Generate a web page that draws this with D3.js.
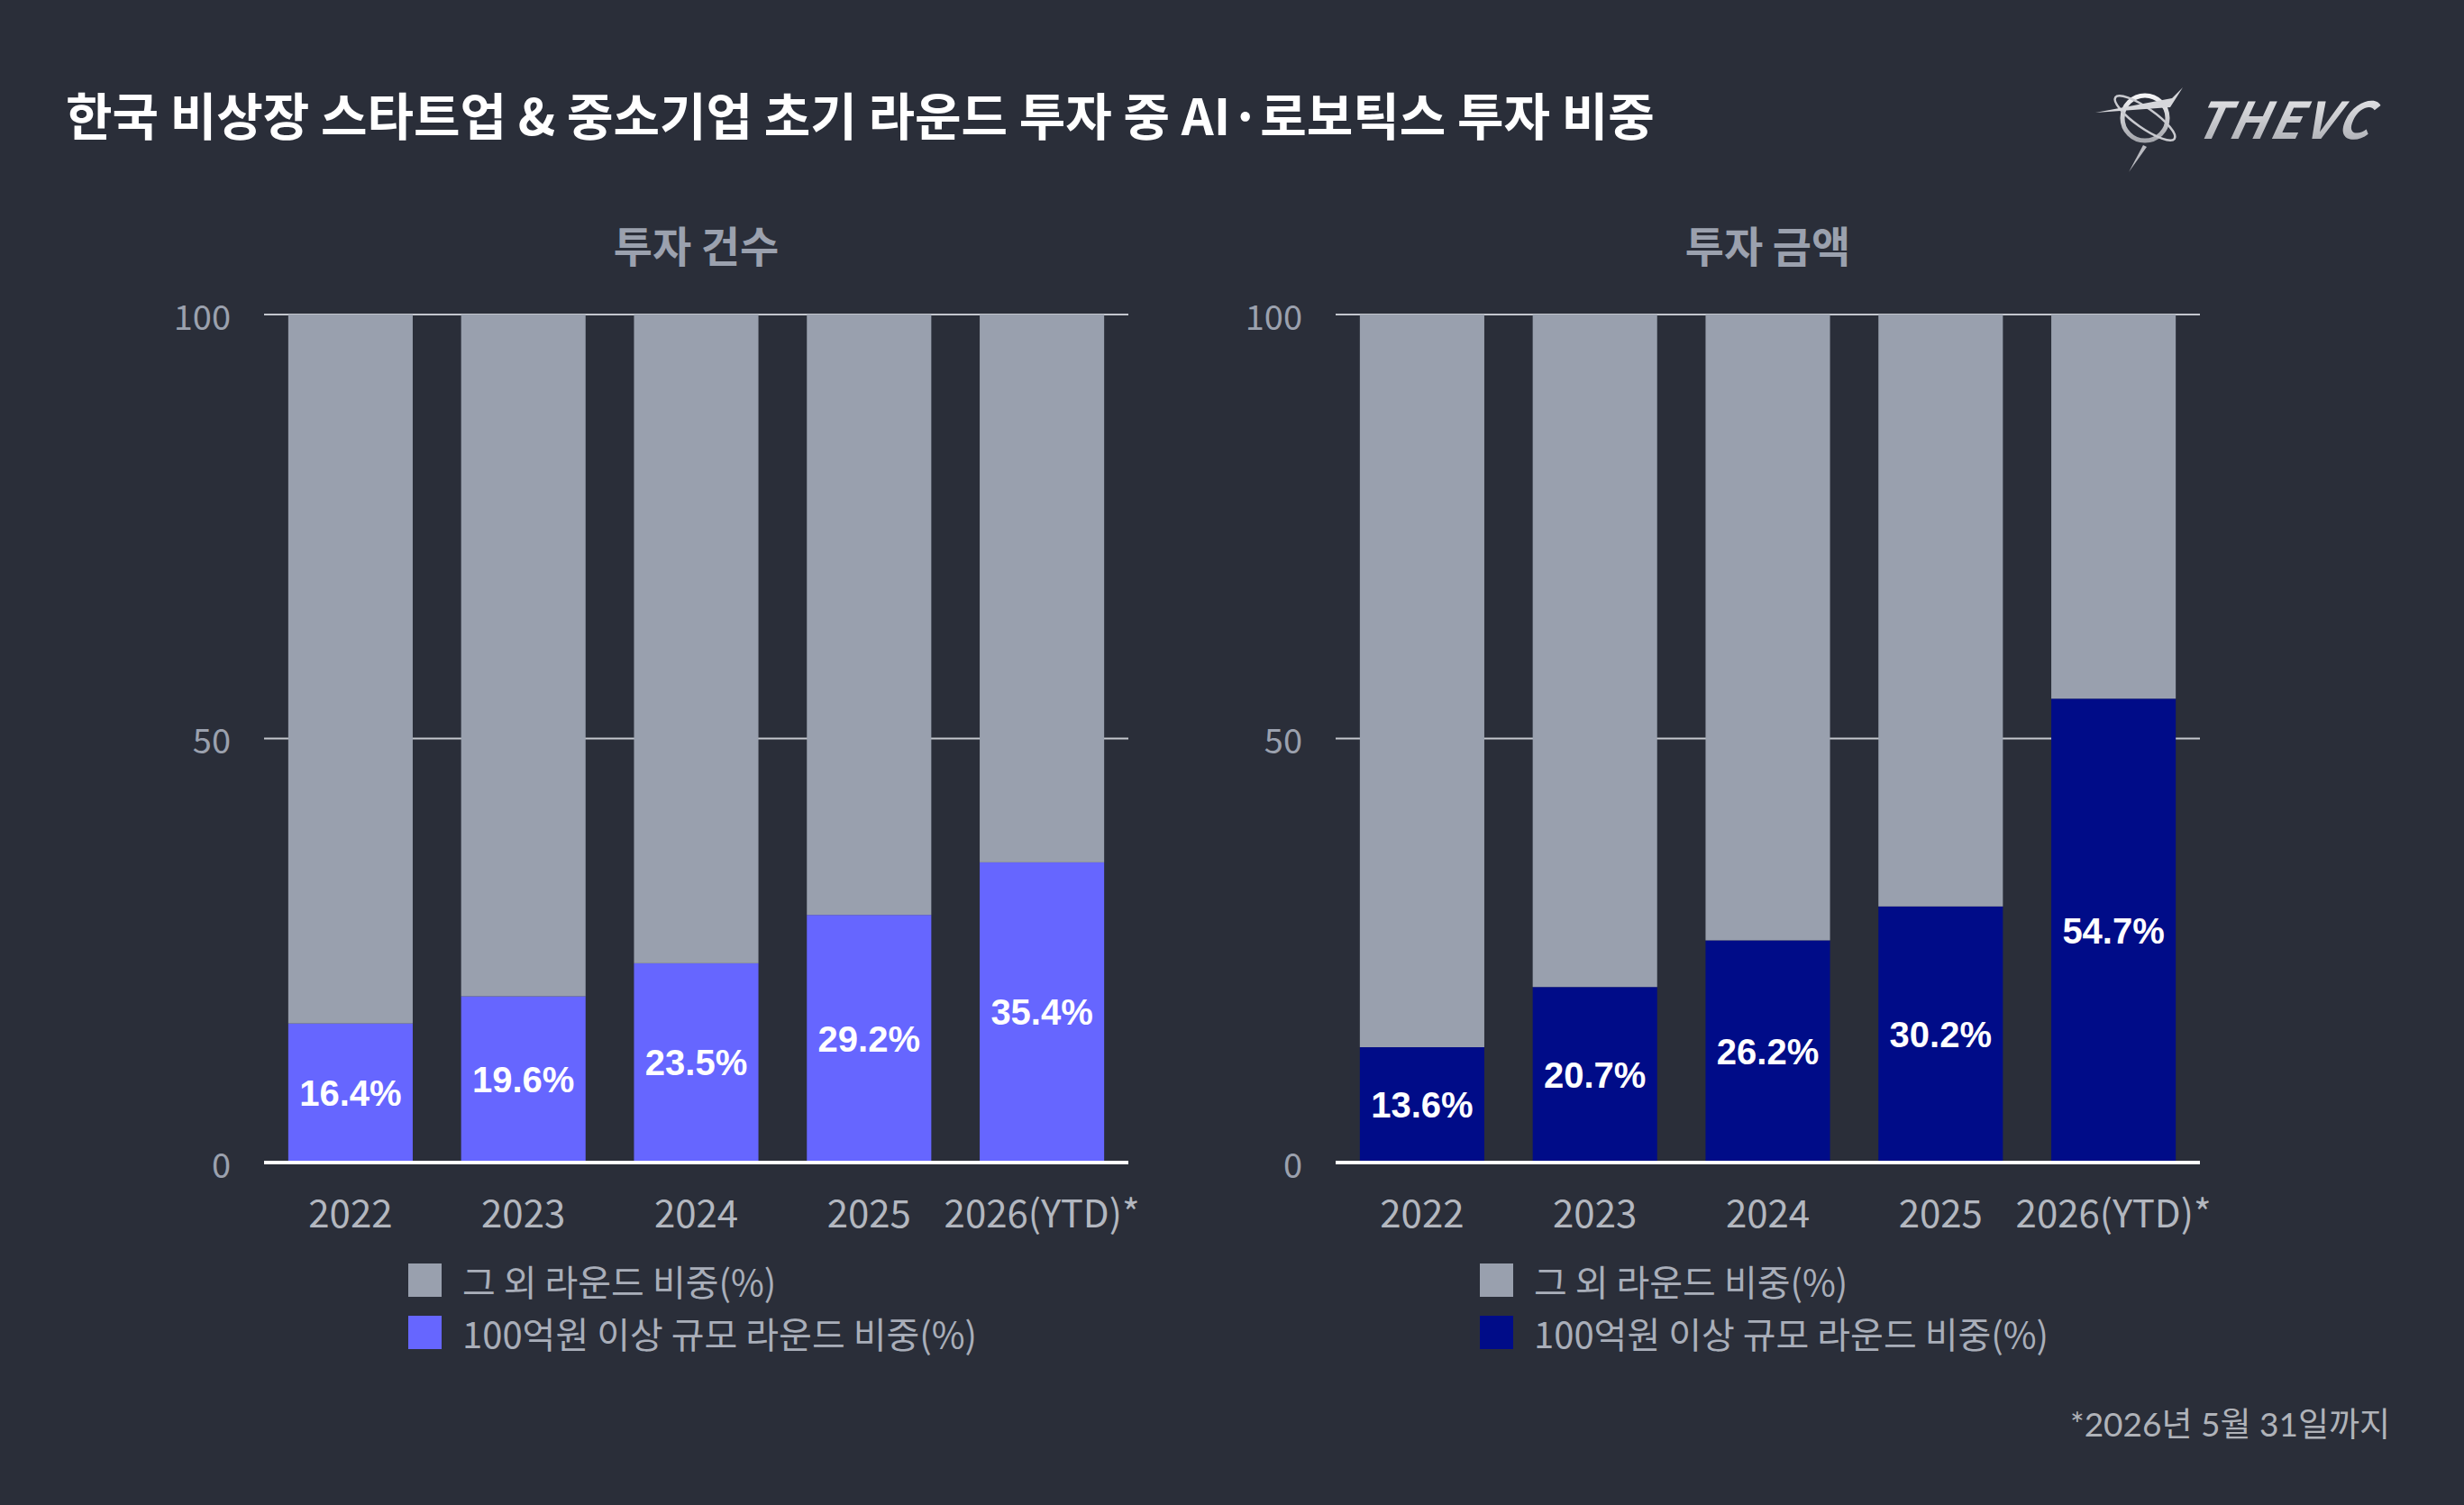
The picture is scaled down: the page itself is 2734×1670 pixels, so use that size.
<!DOCTYPE html>
<html>
<head>
<meta charset="utf-8">
<script src="https://cdn.jsdelivr.net/npm/d3@7"></script>
<style>
  html, body { margin: 0; padding: 0; background: #2a2e39; }
  svg { display: block; }
  text { font-family: "Noto Sans CJK KR", "Noto Sans", sans-serif; }
</style>
</head>
<body>
<svg id="chart"></svg>
<script>
// data
const years = ["2022", "2023", "2024", "2025", "2026(YTD)*"];
const countShare = [16.4, 19.6, 23.5, 29.2, 35.4];   // 투자 건수
const amountShare = [13.6, 20.7, 26.2, 30.2, 54.7];  // 투자 금액
const yTicks = [0, 50, 100];
const legendLabels = ["그 외 라운드 비중(%)", "100억원 이상 규모 라운드 비중(%)"];

const W = 2734, H = 1670;
const bg = "#2a2e39", grey = "#99a0ae", labelGrey = "#9ba1ae";

const svg = d3.select("#chart").attr("width", W).attr("height", H);
svg.append("rect").attr("width", W).attr("height", H).attr("fill", bg);

// title
svg.append("text")
    .attr("x", 73).attr("y", 150)
    .attr("fill", "#ffffff")
    .attr("font-size", 56)
    .attr("font-weight", 700)
    .text("한국 비상장 스타트업 & 중소기업 초기 라운드 투자 중 AI·로보틱스 투자 비중");

// logo
const logoDefs = svg.append("defs");
const silver = logoDefs.append("linearGradient").attr("id", "silver")
    .attr("x1", "0%").attr("x2", "0%").attr("y1", "0%").attr("y2", "100%");
silver.append("stop").attr("offset", "0").attr("stop-color", "#f4f4f6");
silver.append("stop").attr("offset", "1").attr("stop-color", "#a4a6ac");

const logo = svg.append("g").attr("transform", "translate(2380,131)");
logo.append("circle").attr("r", 25).attr("fill", "none")
    .attr("stroke", "url(#silver)").attr("stroke-width", 5);
logo.append("ellipse").attr("rx", 40).attr("ry", 11)
    .attr("transform", "rotate(35)")
    .attr("fill", "none").attr("stroke", "#c9cacf").attr("stroke-width", 2.5);
logo.append("path").attr("d", "M-55,-6 L30,-22 L42,-34 L28,-12 Z").attr("fill", "#d6d7db");
logo.append("path").attr("d", "M-2,30 L-18,60 L2,32 Z").attr("fill", "#b9bac0");
svg.append("text")
    .attr("x", 2432).attr("y", 154)
    .attr("fill", "url(#silver)")
    .attr("font-family", "DejaVu Sans")
    .attr("font-weight", 700)
    .attr("font-style", "italic")
    .attr("font-size", 56)
    .attr("letter-spacing", 3)
    .attr("transform", "skewX(-12) translate(33,0)")
    .text("THEVC");

// one panel
function drawPanel(values, color, subtitle, x0, x1) {
    const y = d3.scaleLinear().domain([0, 100]).range([1290, 349]);
    const x = d3.scaleBand().domain(years).range([x0, x1])
        .paddingInner(0.28).paddingOuter(0.14);

    const rows = years.map((yr, i) => ({ year: yr, big: values[i], other: 100 - values[i] }));
    const stack = d3.stack().keys(["big", "other"])(rows);
    const fills = { big: color, other: grey };

    const g = svg.append("g");

    // gridlines
    g.selectAll(".grid").data(yTicks.filter(t => t > 0)).join("line")
        .attr("x1", x0).attr("x2", x1)
        .attr("y1", d => y(d)).attr("y2", d => y(d))
        .attr("stroke", "#c4c7ce").attr("stroke-width", 2);

    // bars
    g.selectAll(".layer").data(stack).join("g")
        .attr("fill", d => fills[d.key])
        .selectAll("rect").data(d => d).join("rect")
        .attr("x", d => x(d.data.year))
        .attr("width", x.bandwidth())
        .attr("y", d => y(d[1]))
        .attr("height", d => y(d[0]) - y(d[1]));

    // baseline
    g.append("line")
        .attr("x1", x0).attr("x2", x1)
        .attr("y1", y(0)).attr("y2", y(0))
        .attr("stroke", "#ffffff").attr("stroke-width", 4);

    // value labels
    g.selectAll(".val").data(rows).join("text")
        .attr("x", d => x(d.year) + x.bandwidth() / 2)
        .attr("y", d => y(d.big / 2))
        .attr("text-anchor", "middle")
        .attr("dominant-baseline", "central")
        .attr("fill", "#ffffff")
        .style("font-family", "'Liberation Sans', Arial, sans-serif")
        .attr("font-weight", 700)
        .attr("font-size", 40)
        .text(d => d.big.toFixed(1) + "%");

    // y tick labels
    g.selectAll(".ytick").data(yTicks).join("text")
        .attr("x", x0 - 37)
        .attr("y", d => y(d))
        .attr("text-anchor", "end")
        .attr("dominant-baseline", "central")
        .attr("fill", labelGrey)
        .attr("font-family", "Noto Sans, sans-serif")
        .attr("font-size", 38)
        .text(d => d);

    // x labels
    g.selectAll(".xlab").data(years).join("text")
        .attr("x", d => x(d) + x.bandwidth() / 2)
        .attr("y", 1343)
        .attr("text-anchor", "middle")
        .attr("dominant-baseline", "central")
        .attr("fill", "#b3b7bf")
        .attr("font-size", 42)
        .text(d => d);

    // subtitle
    g.append("text")
        .attr("x", (x(years[0]) + x(years[4]) + x.bandwidth()) / 2)
        .attr("y", 270)
        .attr("text-anchor", "middle")
        .attr("dominant-baseline", "central")
        .attr("fill", labelGrey)
        .attr("font-size", 47)
        .attr("font-weight", 700)
        .text(subtitle);

    // legend
    const lx = x0 + 160;
    const leg = g.selectAll(".leg").data([grey, color]).join("g")
        .attr("transform", (d, i) => `translate(${lx},${1402 + i * 58})`);
    leg.append("rect").attr("width", 37).attr("height", 37).attr("fill", d => d);
    leg.append("text")
        .attr("x", 60).attr("y", 19)
        .attr("dominant-baseline", "central")
        .attr("fill", "#a9aeb9")
        .attr("font-size", 40)
        .text((d, i) => legendLabels[i]);
}

drawPanel(countShare, "#6666ff", "투자 건수", 293, 1252);
drawPanel(amountShare, "#000c88", "투자 금액", 1482, 2441);

// footnote
svg.append("text")
    .attr("x", 2652).attr("y", 1579)
    .attr("text-anchor", "end")
    .attr("dominant-baseline", "central")
    .attr("fill", "#b0b3b9")
    .style("font-family", "Lato, 'Noto Sans CJK KR', sans-serif")
    .attr("font-size", 37)
    .text("*2026년 5월 31일까지");
</script>
</body>
</html>
